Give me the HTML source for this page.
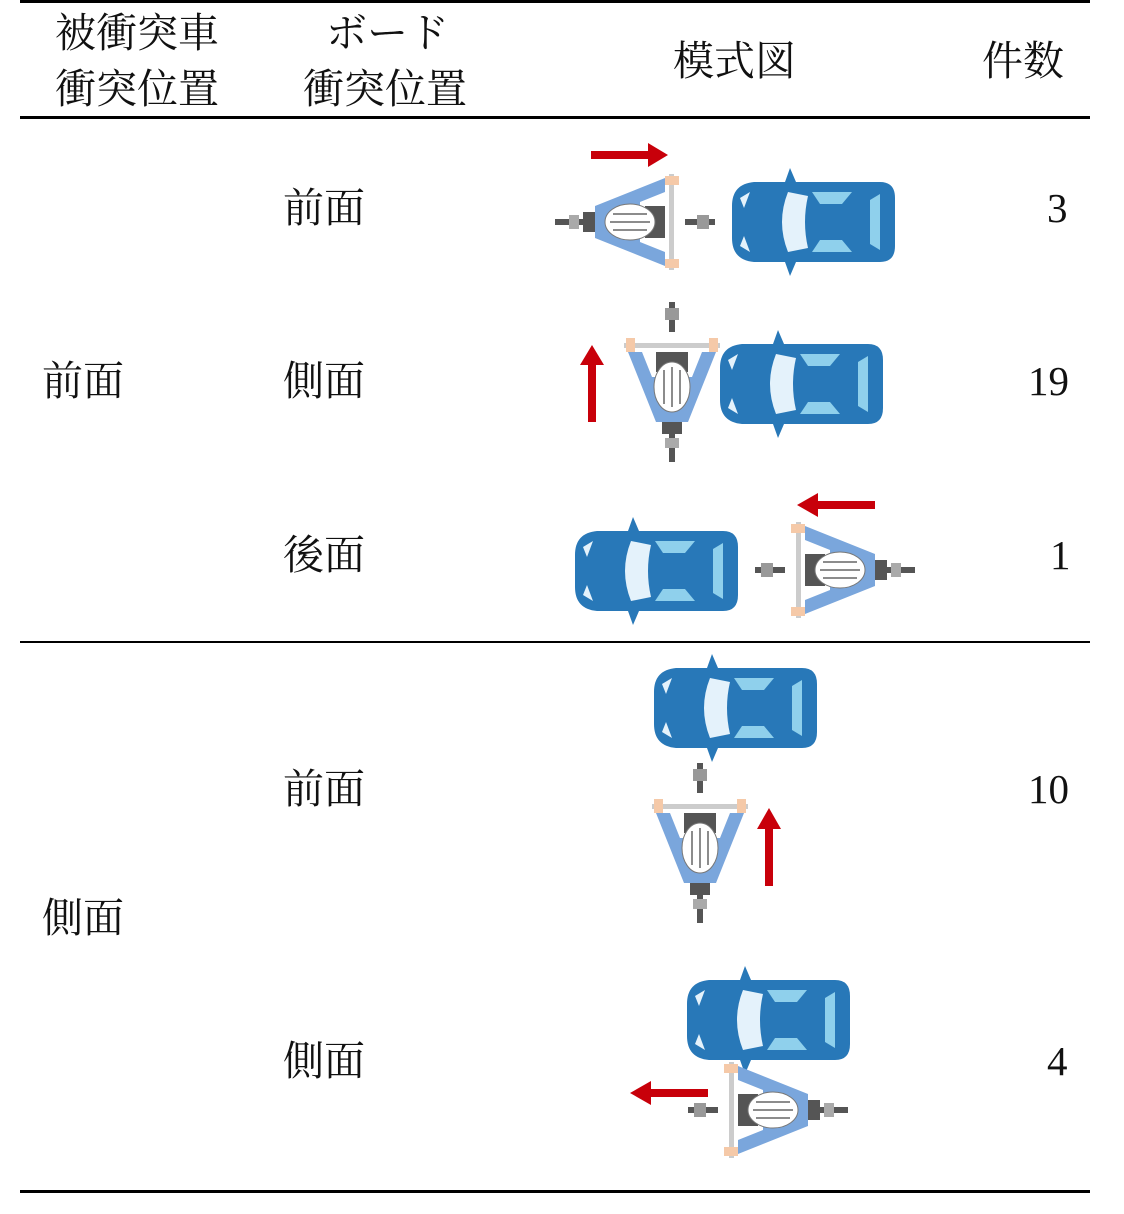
<!DOCTYPE html>
<html><head><meta charset="utf-8"><style>
body{margin:0;width:1124px;height:1214px;background:#fff;position:relative;overflow:hidden;font-family:"Liberation Serif","Noto Serif CJK SC",serif;color:#111}
.t{position:absolute;font-size:41px;line-height:54px;white-space:nowrap}
.l{position:absolute;left:20px;width:1070px;background:#000}
</style></head><body>
<div class="l" style="top:0;height:3px"></div>
<div class="l" style="top:116px;height:3px"></div>
<div class="l" style="top:641px;height:2px"></div>
<div class="l" style="top:1190px;height:3px"></div>

<div class="t" style="left:55px;top:6px">被衝突車</div>
<div class="t" style="left:55px;top:62px">衝突位置</div>
<div class="t" style="left:326px;top:6px">ボード</div>
<div class="t" style="left:303px;top:62px">衝突位置</div>
<div class="t" style="left:673px;top:34px">模式図</div>
<div class="t" style="left:982px;top:34px">件数</div>

<div class="t" style="left:42px;top:354px">前面</div>
<div class="t" style="left:42px;top:891px">側面</div>
<div class="t" style="left:283px;top:181px">前面</div>
<div class="t" style="left:283px;top:354px">側面</div>
<div class="t" style="left:283px;top:528px">後面</div>
<div class="t" style="left:283px;top:762px">前面</div>
<div class="t" style="left:283px;top:1034px">側面</div>
<div class="t" style="left:1047px;top:181px">3</div>
<div class="t" style="left:1028px;top:354px">19</div>
<div class="t" style="left:1050px;top:528px">1</div>
<div class="t" style="left:1028px;top:762px">10</div>
<div class="t" style="left:1047px;top:1034px">4</div>

<svg width="1124" height="1214" style="position:absolute;left:0;top:0">
<defs>
<g id="car">
 <path d="M60 0 L66 14 L150 14 Q165 14 165 30 L165 78 Q165 94 150 94 L66 94 L60 108 L55 94 L24 94 Q2 92 2 70 L2 38 Q2 16 24 14 L55 14 Z" fill="#2878b8"/>
 <path d="M58 24 Q46 54 58 84 L78 80 Q72 54 78 28 Z" fill="#e4f2fb"/>
 <path d="M82 24 L122 24 L112 36 L90 36 Z" fill="#8fd0ec"/>
 <path d="M82 84 L122 84 L112 72 L90 72 Z" fill="#8fd0ec"/>
 <path d="M140 32 L150 26 L150 82 L140 76 Z" fill="#8fd0ec"/>
 <path d="M10 30 L20 24 L14 40 Z M10 78 L20 84 L14 68 Z" fill="#e4f2fb"/>
</g>
<g id="rider">
 <rect x="-3" y="-80" width="6" height="30" fill="#555"/>
 <rect x="-7" y="-74" width="14" height="12" fill="#999"/>
 <rect x="-48" y="-39" width="96" height="5" fill="#ccc"/>
 <path d="M-44 -30 L-30 -30 L-20 -5 L20 -5 L30 -30 L44 -30 L16 40 L-16 40 Z" fill="#7aa6dc"/>
 <rect x="-46" y="-44" width="9" height="14" fill="#f5c9a8"/>
 <rect x="37" y="-44" width="9" height="14" fill="#f5c9a8"/>
 <rect x="-16" y="-30" width="32" height="20" fill="#555"/>
 <ellipse cx="0" cy="5" rx="18" ry="25" fill="#fff" stroke="#777" stroke-width="1"/>
 <path d="M-8 -12 V22 M0 -15 V25 M8 -12 V22" stroke="#666" stroke-width="1.5"/>
 <rect x="-10" y="40" width="20" height="12" fill="#555"/>
 <rect x="-3" y="50" width="6" height="30" fill="#555"/>
 <rect x="-7" y="56" width="14" height="10" fill="#aaa"/>
</g>
</defs>
<use href="#car" transform="translate(730,168)"/>
<use href="#car" transform="translate(718,330)"/>
<use href="#car" transform="translate(573,517)"/>
<use href="#car" transform="translate(652,654)"/>
<use href="#car" transform="translate(685,966)"/>

<use href="#rider" transform="translate(635,222) rotate(90)"/>
<use href="#rider" transform="translate(672,382)"/>
<use href="#rider" transform="translate(835,570) rotate(-90)"/>
<use href="#rider" transform="translate(700,843)"/>
<use href="#rider" transform="translate(768,1110) rotate(-90)"/>

<g fill="#c8000a">
 <path d="M591 151 H648 V143 L668 155 L648 167 V159 H591 Z"/>
 <path d="M588 422 V365 H580 L592 345 L604 365 H596 V422 Z"/>
 <path d="M875 501 H818 V493 L797 505 L818 517 V509 H875 Z"/>
 <path d="M765 886 V829 H757 L769 808 L781 829 H773 V886 Z"/>
 <path d="M708 1089 H651 V1081 L630 1093 L651 1105 V1097 H708 Z"/>
</g>
</svg>
</body></html>
